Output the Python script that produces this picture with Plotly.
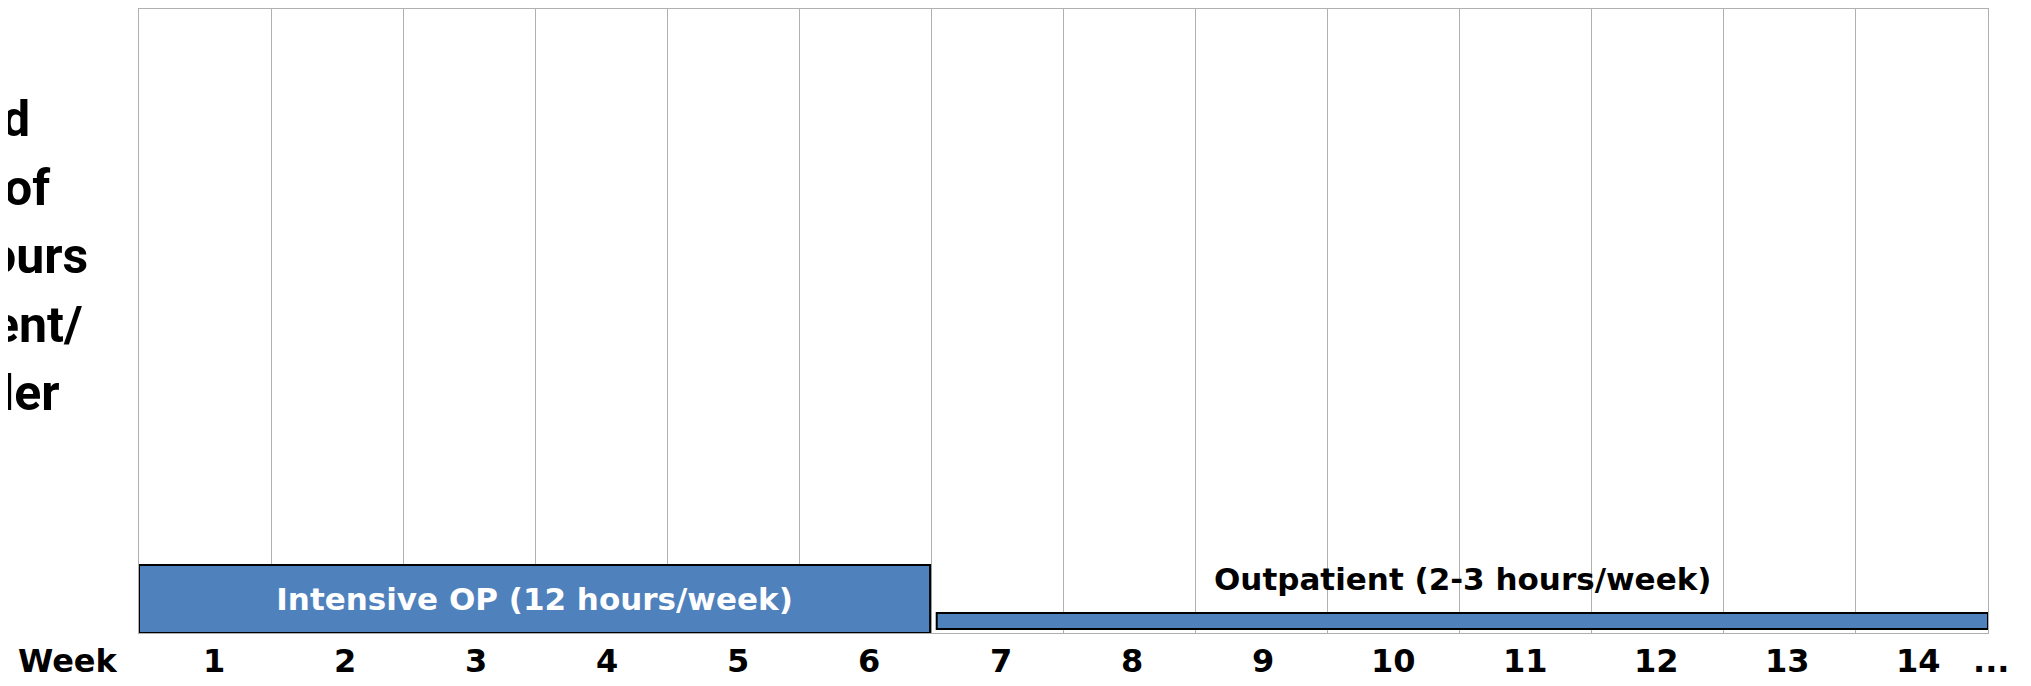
import plotly.graph_objects as go

# ---- data ----
week_numbers = list(range(1, 15))
axis_lead_label = "Week"
axis_tail_label = "..."
phase_names = ["Intensive OP (12 hours/week)", "Outpatient (2-3 hours/week)"]
phase_start = [0.0, 6.04]
phase_end = [5.99, 14.0]
left_title_fragments = ["d", "of", "ours", "ent/", "ler"]

# page body has an 8px margin, so the figure is offset by 8px
OFF = 8
W, H = 2031 - OFF, 686 - OFF
FONT = "DejaVu Sans"
FRAG_FONT = "Roboto"
BLUE = "#4f81bd"
GRID = "#b0b0b0"

fig = go.Figure()

# Intensive OP bar (tall)
fig.add_trace(go.Bar(
    orientation="h",
    base=[phase_start[0]],
    x=[phase_end[0] - phase_start[0]],
    y=[5.45], width=[10.9],
    marker=dict(color=BLUE, line=dict(color="black", width=2)),
    text=["<b>" + phase_names[0] + "</b>"],
    textposition="inside", insidetextanchor="middle",
    textfont=dict(family=FONT, size=31, color="white"),
    hoverinfo="skip", showlegend=False,
))
# Outpatient bar (thin)
fig.add_trace(go.Bar(
    orientation="h",
    base=[phase_start[1]],
    x=[phase_end[1] - phase_start[1]],
    y=[1.92], width=[2.56],
    marker=dict(color=BLUE, line=dict(color="black", width=2)),
    hoverinfo="skip", showlegend=False,
))

annotations = []
annotations.append(dict(
    x=(phase_start[1] + phase_end[1]) / 2, y=8.7, xref="x", yref="y",
    text="<b>" + phase_names[1] + "</b>", showarrow=False,
    font=dict(family=FONT, size=31, color="black"),
    xanchor="center", yanchor="middle",
))

# week labels: evenly spread over the label band under the axis
# (paper coordinates so labels outside the axis range are still drawn)
band_lo, band_hi = 0.07, 13.97
step = (band_hi - band_lo) / len(week_numbers)
labels = [axis_lead_label] + [str(w) for w in week_numbers] + [axis_tail_label]
xs = [-0.54] + [band_lo + step * (k + 0.5) for k in range(len(week_numbers))] + [14.02]
for lx, lt in zip(xs, labels):
    annotations.append(dict(
        x=lx / 14.0, y=0, xref="paper", yref="paper",
        xanchor="center", yanchor="middle", yshift=-28,
        text="<b>" + lt + "</b>", showarrow=False, height=36,
        font=dict(family=FONT, size=32, color="black"),
    ))

plot_l, plot_r, plot_t, plot_b = 138.6 - OFF, 1988 - OFF, 8 - OFF + 0.5, 633 - OFF
frag_right_px = [32, 52, 90, 85, 62]
frag_y_px = [119, 188, 256, 325, 393]
for ft, rx, ry in zip(left_title_fragments, frag_right_px, frag_y_px):
    rx -= OFF
    ry -= OFF
    annotations.append(dict(
        x=(rx - plot_l) / (plot_r - plot_l), y=(plot_b - ry) / (plot_b - plot_t),
        xref="paper", yref="paper", xanchor="right", yanchor="middle",
        text="<b>" + ft + "</b>", showarrow=False,
        font=dict(family=FRAG_FONT, size=50, color="black"),
    ))

fig.update_layout(
    width=W, height=H,
    margin=dict(l=plot_l, r=W - plot_r, t=plot_t, b=H - plot_b, pad=0),
    paper_bgcolor="white", plot_bgcolor="white",
    barmode="overlay",
    annotations=annotations,
    xaxis=dict(range=[0, 14], tickvals=list(range(0, 15)), showticklabels=False,
               showgrid=True, gridcolor=GRID, gridwidth=1.3, zeroline=False,
               showline=True, linecolor=GRID, linewidth=1.3, mirror=True, ticks=""),
    yaxis=dict(range=[0, 100], showticklabels=False, showgrid=False, zeroline=False,
               showline=True, linecolor=GRID, linewidth=1.3, mirror=True, ticks=""),
)

fig.write_html("out.html")
